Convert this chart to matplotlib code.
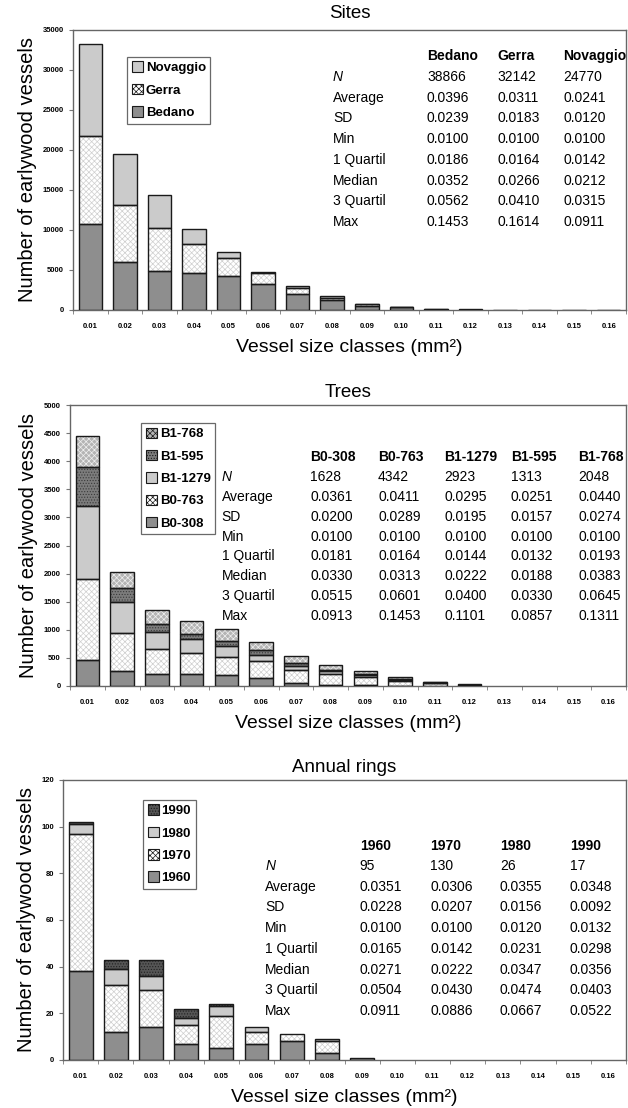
import numpy as np
import matplotlib.pyplot as plt

plt.rcParams['font.family'] = ['Liberation Sans', 'DejaVu Sans']
plt.rcParams['hatch.linewidth'] = 0.5

# vessel size classes (mm2)
classes = ['0.01', '0.02', '0.03', '0.04', '0.05', '0.06', '0.07', '0.08',
           '0.09', '0.10', '0.11', '0.12', '0.13', '0.14', '0.15', '0.16']

# --- sites ---
site_names = ['Bedano', 'Gerra', 'Novaggio']
bedano = [10700, 6000, 4900, 4600, 4250, 3250, 2000, 1300, 550, 350, 150, 80, 50, 30, 20, 10]
gerra = [11100, 7100, 5400, 3600, 2250, 1350, 700, 200, 150, 50, 20, 0, 0, 0, 0, 0]
novaggio = [11400, 6400, 4100, 1900, 700, 200, 300, 200, 50, 20, 0, 0, 0, 0, 0, 0]
site_stats = [
    ['38866', '32142', '24770'],
    ['0.0396', '0.0311', '0.0241'],
    ['0.0239', '0.0183', '0.0120'],
    ['0.0100', '0.0100', '0.0100'],
    ['0.0186', '0.0164', '0.0142'],
    ['0.0352', '0.0266', '0.0212'],
    ['0.0562', '0.0410', '0.0315'],
    ['0.1453', '0.1614', '0.0911'],
]

# --- trees ---
tree_names = ['B0-308', 'B0-763', 'B1-1279', 'B1-595', 'B1-768']
b0_308 = [470, 270, 220, 210, 190, 150, 60, 20, 10, 5, 0, 0, 0, 0, 0, 0]
b0_763 = [1430, 670, 430, 380, 330, 300, 230, 200, 150, 90, 50, 20, 0, 0, 0, 0]
b1_1279 = [1300, 560, 310, 240, 200, 110, 70, 40, 30, 20, 10, 5, 0, 0, 0, 0]
b1_595 = [700, 250, 150, 100, 80, 80, 50, 30, 20, 10, 5, 0, 0, 0, 0, 0]
b1_768 = [550, 280, 250, 230, 210, 150, 130, 90, 60, 30, 15, 5, 0, 0, 0, 0]
tree_stats = [
    ['1628', '4342', '2923', '1313', '2048'],
    ['0.0361', '0.0411', '0.0295', '0.0251', '0.0440'],
    ['0.0200', '0.0289', '0.0195', '0.0157', '0.0274'],
    ['0.0100', '0.0100', '0.0100', '0.0100', '0.0100'],
    ['0.0181', '0.0164', '0.0144', '0.0132', '0.0193'],
    ['0.0330', '0.0313', '0.0222', '0.0188', '0.0383'],
    ['0.0515', '0.0601', '0.0400', '0.0330', '0.0645'],
    ['0.0913', '0.1453', '0.1101', '0.0857', '0.1311'],
]

# --- annual rings ---
ring_names = ['1960', '1970', '1980', '1990']
y1960 = [38, 12, 14, 7, 5, 7, 8, 3, 1, 0, 0, 0, 0, 0, 0, 0]
y1970 = [59, 20, 16, 8, 14, 5, 3, 5, 0, 0, 0, 0, 0, 0, 0, 0]
y1980 = [4, 7, 6, 3, 4, 2, 0, 1, 0, 0, 0, 0, 0, 0, 0, 0]
y1990 = [1, 4, 7, 4, 1, 0, 0, 0, 0, 0, 0, 0, 0, 0, 0, 0]
ring_stats = [
    ['95', '130', '26', '17'],
    ['0.0351', '0.0306', '0.0355', '0.0348'],
    ['0.0228', '0.0207', '0.0156', '0.0092'],
    ['0.0100', '0.0100', '0.0120', '0.0132'],
    ['0.0165', '0.0142', '0.0231', '0.0298'],
    ['0.0271', '0.0222', '0.0347', '0.0356'],
    ['0.0504', '0.0430', '0.0474', '0.0403'],
    ['0.0911', '0.0886', '0.0667', '0.0522'],
]

row_labels = ['N', 'Average', 'SD', 'Min', '1 Quartil', 'Median', '3 Quartil', 'Max']

# fill styles: (facecolor, hatch, hatch colour)
DARK = ('#8e8e8e', None, None)
DOTS = ('#ffffff', 'xxxxxx', '#cfcfcf')
LIGHT = ('#cbcbcb', None, None)
DARKDOT = ('#7c7c7c', '......', '#3a3a3a')
MIDDOT = ('#b4b4b4', 'xxxxxx', '#f0f0f0')
BLACKDOT = ('#555555', '......', '#222222')


def stacked(ax, series, names, styles):
    x = np.arange(len(classes))
    bottom = np.zeros(len(classes))
    handles = []
    for vals, name, (fc, hatch, hc) in zip(series, names, styles):
        vals = np.asarray(vals, dtype=float)
        m = vals > 0
        ax.bar(x[m], vals[m], 0.68, bottom=bottom[m], color=fc, hatch=hatch,
               edgecolor=hc if hatch else fc, linewidth=0, zorder=2)
        ax.bar(x[m], vals[m], 0.68, bottom=bottom[m], fill=False,
               edgecolor='#1a1a1a', linewidth=1.0, zorder=3)
        handles.append(plt.Rectangle((0, 0), 1, 1, facecolor=fc, hatch=hatch,
                                     edgecolor=hc if hatch else '#1a1a1a',
                                     linewidth=0.8))
        bottom += vals
    return handles


def style_axes(ax, ymax, ystep):
    ax.set_xlim(-0.5, len(classes) - 0.5)
    ax.set_ylim(0, ymax)
    ax.set_yticks(np.arange(0, ymax + 1, ystep))
    ax.set_xticks(np.arange(len(classes)))
    ax.set_xticklabels(classes)
    ax.set_xticks(np.arange(len(classes) + 1) - 0.5, minor=True)
    ax.tick_params(axis='x', which='major', length=0, pad=9, labelsize=5.5)
    ax.tick_params(axis='x', which='minor', length=3, direction='out', color='#777777')
    ax.tick_params(axis='y', length=3, labelsize=5.5, color='#777777')
    for lbl in ax.get_xticklabels() + ax.get_yticklabels():
        lbl.set_fontweight('bold')
    for s in ax.spines.values():
        s.set_color('#666666')
        s.set_linewidth(1.0)
    ax.set_ylabel('Number of earlywood vessels', fontsize=14.5, labelpad=4)
    ax.set_xlabel('Vessel size classes (mm²)', fontsize=14, labelpad=7)


def stats_table(ax, names, stats, xrow, xcols, yhead, ytop, ybot):
    for xc, name in zip(xcols, names):
        ax.text(xc, yhead, name, transform=ax.transAxes, fontsize=10,
                fontweight='bold', va='center')
    ys = np.linspace(ytop, ybot, len(row_labels))
    for i, (lab, y) in enumerate(zip(row_labels, ys)):
        ax.text(xrow, y, lab, transform=ax.transAxes, fontsize=10, va='center',
                style='italic' if lab == 'N' else 'normal')
        for xc, val in zip(xcols, stats[i]):
            ax.text(xc, y, val, transform=ax.transAxes, fontsize=10, va='center')


def legend(ax, handles, names, anchor):
    leg = ax.legend(handles[::-1], names[::-1], loc='upper left',
                    bbox_to_anchor=anchor, frameon=True, fancybox=False,
                    prop={'weight': 'bold', 'size': 9.5}, handlelength=0.85,
                    handleheight=0.85, handletextpad=0.2, labelspacing=0.72,
                    borderpad=0.35, borderaxespad=0)
    leg.get_frame().set_edgecolor('#444444')
    leg.get_frame().set_linewidth(0.9)
    for p in leg.get_patches():
        p.set_edgecolor('#1a1a1a')


fig = plt.figure(figsize=(6.28, 11.08), dpi=100)
W, H = 628, 1108


def px_axes(left, top, right, bottom):
    return fig.add_axes([left / W, 1 - bottom / H, (right - left) / W, (bottom - top) / H])


# Sites
ax1 = px_axes(73, 30, 626, 310)
h1 = stacked(ax1, [bedano, gerra, novaggio], site_names, [DARK, DOTS, LIGHT])
style_axes(ax1, 35000, 5000)
ax1.set_title('Sites', fontsize=13.5, pad=9)
legend(ax1, h1, site_names, (0.098, 0.904))
stats_table(ax1, site_names, site_stats, 0.47, [0.64, 0.767, 0.887], 0.907, 0.832, 0.314)

# Trees
ax2 = px_axes(70, 405, 626, 686)
h2 = stacked(ax2, [b0_308, b0_763, b1_1279, b1_595, b1_768], tree_names,
             [DARK, DOTS, LIGHT, DARKDOT, MIDDOT])
style_axes(ax2, 5000, 500)
ax2.set_title('Trees', fontsize=13.5, pad=6)
legend(ax2, h2, tree_names, (0.128, 0.936))
stats_table(ax2, tree_names, tree_stats, 0.273, [0.432, 0.554, 0.673, 0.793, 0.914],
            0.815, 0.744, 0.249)

# Annual rings
ax3 = px_axes(63, 780, 626, 1060)
h3 = stacked(ax3, [y1960, y1970, y1980, y1990], ring_names, [DARK, DOTS, LIGHT, BLACKDOT])
style_axes(ax3, 120, 20)
ax3.set_title('Annual rings', fontsize=13.5, pad=6)
legend(ax3, h3, ring_names, (0.142, 0.929))
stats_table(ax3, ring_names, ring_stats, 0.359, [0.527, 0.652, 0.776, 0.90],
            0.764, 0.693, 0.175)

fig.savefig('out.png', dpi=100)
